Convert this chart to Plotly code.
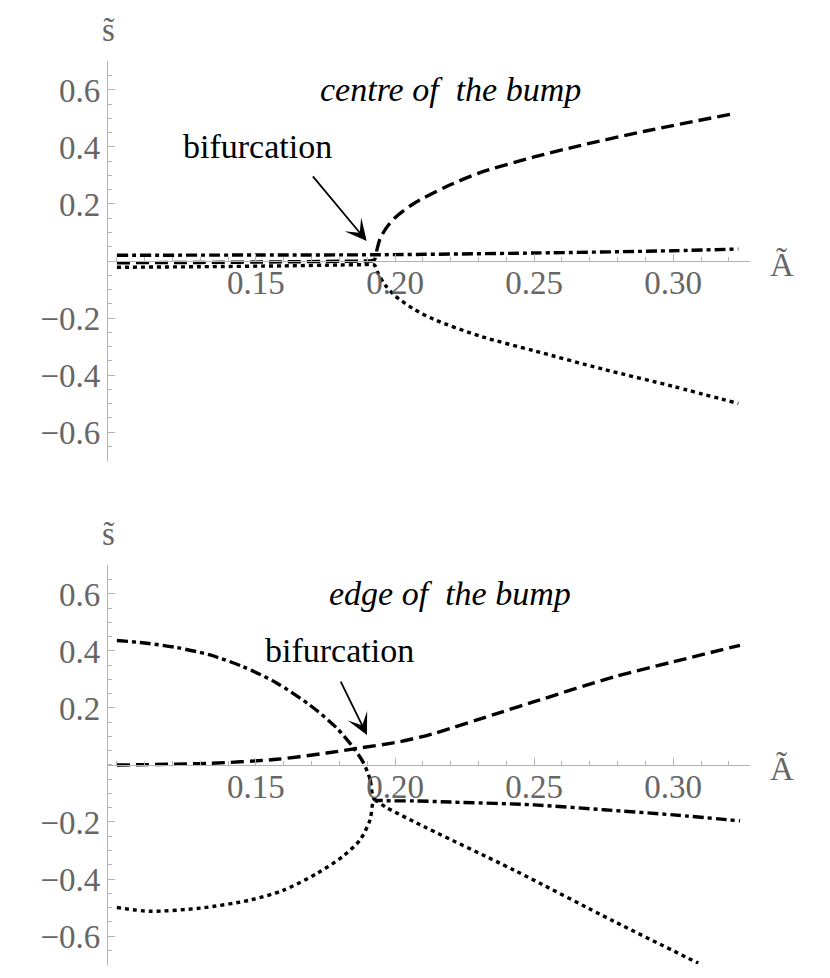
"""Bifurcation diagrams of s~ against A~ at the centre and at the edge of the bump."""

import plotly.graph_objects as go

# ---- centre of the bump (top panel) ----
top_dashed_x = [0.100, 0.130, 0.160, 0.180, 0.1880, 0.1925, 0.1935, 0.1946, 0.1970, 0.2000, 0.2065, 0.2187, 0.2306, 0.2500, 0.2665, 0.2906, 0.3212]
top_dashed_y = [-0.006, -0.005, -0.003, -0.001, 0.000, 0.004, 0.040, 0.078, 0.118, 0.152, 0.200, 0.262, 0.310, 0.365, 0.405, 0.457, 0.516]

top_dotted_x = [0.100, 0.130, 0.160, 0.180, 0.1880, 0.1925, 0.1940, 0.1965, 0.2000, 0.2070, 0.2140, 0.2310, 0.2500, 0.2750, 0.3000, 0.3234]
top_dotted_y = [-0.022, -0.020, -0.017, -0.014, -0.013, -0.014, -0.045, -0.085, -0.122, -0.170, -0.205, -0.265, -0.315, -0.380, -0.440, -0.500]

top_dashdot_x = [0.100, 0.150, 0.1946, 0.250, 0.300, 0.3234]
top_dashdot_y = [0.020, 0.021, 0.022, 0.028, 0.036, 0.042]

# ---- edge of the bump (bottom panel) ----
bot_dashed_x = [0.100, 0.1335, 0.1574, 0.1754, 0.1862, 0.2018, 0.2137, 0.2380, 0.2500, 0.2790, 0.3000, 0.3240]
bot_dashed_y = [0.000, 0.006, 0.020, 0.042, 0.058, 0.082, 0.110, 0.185, 0.222, 0.310, 0.362, 0.420]

bot_dotted_x = [0.100, 0.1119, 0.130, 0.1478, 0.1597, 0.172, 0.1813, 0.1874, 0.191, 0.1925, 0.1970, 0.2070, 0.2430, 0.2790, 0.3090]
bot_dotted_y = [-0.500, -0.513, -0.502, -0.474, -0.440, -0.380, -0.320, -0.263, -0.193, -0.125, -0.150, -0.200, -0.370, -0.550, -0.695]

bot_dashdot_x = [0.100, 0.110, 0.1215, 0.1335, 0.1453, 0.1574, 0.1694, 0.179, 0.1849, 0.1885, 0.191, 0.1925, 0.1960, 0.2070, 0.2200, 0.2500, 0.2750, 0.3000, 0.3240]
bot_dashdot_y = [0.437, 0.428, 0.412, 0.386, 0.345, 0.288, 0.210, 0.130, 0.062, 0.010, -0.050, -0.120, -0.125, -0.126, -0.130, -0.140, -0.157, -0.175, -0.196]

x_ticks = [0.15, 0.20, 0.25, 0.30]
x_tick_labels = ["0.15", "0.20", "0.25", "0.30"]
y_ticks = [-0.6, -0.4, -0.2, 0.2, 0.4, 0.6]
y_tick_labels = ["\u22120.6", "\u22120.4", "\u22120.2", "0.2", "0.4", "0.6"]

panel_titles = ["centre of\u00a0 the bump", "edge of\u00a0 the bump"]
bifurcation_label_x = [0.1504, 0.1802]
arrow_tails = [(0.1700, 0.302), (0.1802, 0.298)]
arrow_tips = [(0.1898, 0.070), (0.1899, 0.105)]

SERIF = "Liberation Serif"
TICK_GREY = "#666666"
AXIS_GREY = "#b3b3b3"
X_RANGE = [0.0968, 0.3276]
Y_RANGE = [-0.7, 0.7]
# the page puts the figure 8px in from the top-left corner
DOMAINS = [[0.5296, 0.9444], [0.0057, 0.4205]]

DASHES = {
    "dashed": "13px,6px",
    "dotted": "4px,4px",
    "dashdot": "11px,4px,4px,4px",
}


def _suffix(row: int) -> str:
    return "" if row == 1 else str(row)


def _add_curve(fig: go.Figure, x: list[float], y: list[float], style: str, row: int) -> None:
    fig.add_trace(
        go.Scatter(
            x=x,
            y=y,
            mode="lines",
            line={"color": "black", "width": 3.4, "dash": DASHES[style], "shape": "spline", "smoothing": 0.8},
            xaxis=f"x{_suffix(row)}",
            yaxis=f"y{_suffix(row)}",
            hoverinfo="skip",
        )
    )


def _axes(fig: go.Figure, row: int) -> None:
    suffix = _suffix(row)
    domain = DOMAINS[row - 1]
    tick_font = {"family": SERIF, "size": 33, "color": TICK_GREY}
    common = dict(
        showline=True,
        linecolor=AXIS_GREY,
        linewidth=1.2,
        showgrid=False,
        zeroline=False,
        tickmode="array",
        ticks="inside",
        ticklen=7,
        tickcolor=AXIS_GREY,
        tickfont=tick_font,
    )
    fig.update_layout(
        {
            f"xaxis{suffix}": dict(
                range=X_RANGE,
                domain=[0, 1],
                anchor="free",
                position=(domain[0] + domain[1]) / 2,
                tickvals=x_ticks,
                ticktext=x_tick_labels,
                ticklabelstandoff=-8,
                minor=dict(ticks="inside", ticklen=4, tickcolor=AXIS_GREY, tickmode="linear", tick0=0.1, dtick=0.01),
                **common,
            ),
            f"yaxis{suffix}": dict(
                range=Y_RANGE,
                domain=domain,
                anchor=f"x{suffix}",
                tickvals=y_ticks,
                ticktext=y_tick_labels,
                minor=dict(ticks="inside", ticklen=4, tickcolor=AXIS_GREY, tickmode="linear", tick0=0, dtick=0.05),
                **common,
            ),
        }
    )


def _labels(fig: go.Figure, row: int) -> None:
    suffix = _suffix(row)
    xref, yref = f"x{suffix}", f"y{suffix}"
    data_ref = {"xref": xref, "yref": yref, "showarrow": False}
    domain_ref = {
        "xref": f"{xref} domain", "yref": f"{yref} domain", "showarrow": False,
        "xanchor": "center", "yanchor": "middle",
    }
    grey_font = {"family": SERIF, "size": 33, "color": TICK_GREY}

    fig.add_annotation(
        x=0.2198, y=0.60, text=f"<i>{panel_titles[row - 1]}</i>",
        font={"family": SERIF, "size": 34, "color": "black"}, **data_ref,
    )
    fig.add_annotation(
        x=bifurcation_label_x[row - 1], y=0.40, text="bifurcation",
        font={"family": SERIF, "size": 34, "color": "black"}, **data_ref,
    )
    fig.add_annotation(x=0.0, y=1.079, text="s\u0303", font=grey_font, **domain_ref)
    fig.add_annotation(x=1.050, y=0.490, text="\u00c3", font=grey_font, **domain_ref)

    tip, tail = arrow_tips[row - 1], arrow_tails[row - 1]
    fig.add_annotation(
        x=tip[0], y=tip[1], ax=tail[0], ay=tail[1],
        xref=xref, yref=yref, axref=xref, ayref=yref,
        text="", showarrow=True, arrowhead=3, arrowsize=2.0, arrowwidth=1.8, arrowcolor="black",
    )


fig = go.Figure()

_add_curve(fig, top_dashdot_x, top_dashdot_y, "dashdot", 1)
_add_curve(fig, top_dotted_x, top_dotted_y, "dotted", 1)
_add_curve(fig, top_dashed_x, top_dashed_y, "dashed", 1)

_add_curve(fig, bot_dashdot_x, bot_dashdot_y, "dashdot", 2)
_add_curve(fig, bot_dotted_x, bot_dotted_y, "dotted", 2)
_add_curve(fig, bot_dashed_x, bot_dashed_y, "dashed", 2)

for row in (1, 2):
    _axes(fig, row)
    _labels(fig, row)

fig.update_layout(
    width=814,
    height=962,
    autosize=False,
    margin={"l": 100, "r": 72, "t": 0, "b": 0},
    paper_bgcolor="white",
    plot_bgcolor="white",
    showlegend=False,
)

fig.write_html("out.html")
